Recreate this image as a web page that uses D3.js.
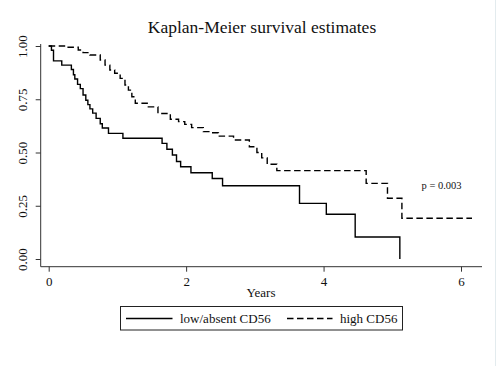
<!DOCTYPE html>
<html>
<head>
<meta charset="utf-8">
<script src="https://cdn.jsdelivr.net/npm/d3@7.9.0/dist/d3.min.js"></script>
<style>
  body { margin: 0; background: #fff; }
  svg text { font-family: "Liberation Serif", "Times New Roman", serif; fill: #111; }
</style>
</head>
<body>
<div id="chart"></div>
<script>
// step points: [years, survival]
const lowCD56 = [
  [0, 1], [0.04, 0.98], [0.07, 0.93], [0.19, 0.91], [0.33, 0.89], [0.36, 0.865],
  [0.38, 0.845], [0.42, 0.82], [0.46, 0.80], [0.50, 0.77], [0.54, 0.745],
  [0.57, 0.725], [0.60, 0.705], [0.64, 0.685], [0.69, 0.66], [0.75, 0.635],
  [0.78, 0.615], [0.87, 0.59], [1.08, 0.567], [1.65, 0.543], [1.72, 0.515],
  [1.80, 0.488], [1.86, 0.458], [1.92, 0.433], [2.07, 0.405], [2.38, 0.378],
  [2.53, 0.344], [3.65, 0.261], [4.04, 0.21], [4.46, 0.103], [5.11, 0]
];
const highCD56 = [
  [0, 1], [0.26, 0.994], [0.43, 0.981], [0.50, 0.969], [0.60, 0.958],
  [0.75, 0.934], [0.82, 0.91], [0.89, 0.887], [0.96, 0.872], [1.04, 0.848],
  [1.11, 0.817], [1.16, 0.793], [1.21, 0.762], [1.26, 0.731], [1.45, 0.714],
  [1.59, 0.683], [1.77, 0.656], [1.89, 0.645], [1.98, 0.632], [2.08, 0.617],
  [2.25, 0.598], [2.35, 0.593], [2.47, 0.577], [2.69, 0.559], [2.92, 0.527],
  [3.03, 0.50], [3.10, 0.475], [3.18, 0.445], [3.32, 0.415], [4.62, 0.355],
  [4.93, 0.285], [5.14, 0.191], [6.16, 0.191]
];
const xTicks = [0, 2, 4, 6];
const yTicks = [0, 0.25, 0.5, 0.75, 1];
const legendLabels = ["low/absent CD56", "high CD56"];
const pLabel = "p = 0.003";

const W = 500, H = 366;
const svg = d3.select("#chart").append("svg").attr("width", W).attr("height", H);

// faint frame line on the right
svg.append("line").attr("x1", 495.5).attr("x2", 495.5).attr("y1", 0).attr("y2", H)
  .attr("stroke", "#e3ebee").attr("stroke-width", 1);

const x = d3.scaleLinear().domain([0, 6]).range([48.7, 461]);
const y = d3.scaleLinear().domain([0, 1]).range([259, 46]);

svg.append("text")
  .attr("x", 262).attr("y", 33)
  .attr("text-anchor", "middle")
  .style("font-size", "17.5px")
  .text("Kaplan-Meier survival estimates");

// y axis
const yAxis = svg.append("g").attr("transform", "translate(40.7,0)")
  .call(d3.axisLeft(y).tickValues(yTicks).tickSize(5).tickFormat(d3.format(".2f")));
yAxis.select(".domain").attr("d", `M0,44V266.7`);
yAxis.selectAll("line").attr("stroke", "#333");
yAxis.select(".domain").attr("stroke", "#333");
yAxis.selectAll("text")
  .attr("transform", "rotate(-90)")
  .attr("x", 0).attr("y", -14).attr("dy", 0)
  .attr("text-anchor", "middle")
  .style("font-size", "13px");

// x axis
const xAxis = svg.append("g").attr("transform", "translate(0,266.7)")
  .call(d3.axisBottom(x).tickValues(xTicks).tickSize(5).tickFormat(d3.format("d")));
xAxis.select(".domain").attr("d", "M40.7,0H482").attr("stroke", "#333");
xAxis.selectAll("line").attr("stroke", "#333");
xAxis.selectAll("text")
  .attr("y", 10).attr("dy", "0.71em")
  .style("font-size", "13px");

svg.append("text")
  .attr("x", 261).attr("y", 297)
  .attr("text-anchor", "middle")
  .style("font-size", "13px")
  .text("Years");

const line = d3.line().curve(d3.curveStepAfter)
  .x(d => x(d[0])).y(d => y(d[1]));

svg.append("path").datum(lowCD56)
  .attr("d", line).attr("fill", "none")
  .attr("stroke", "#000").attr("stroke-width", 1.4);

svg.append("path").datum(highCD56)
  .attr("d", line).attr("fill", "none")
  .attr("stroke", "#000").attr("stroke-width", 1.4)
  .attr("stroke-dasharray", "6.5,3.5");

svg.append("text")
  .attr("x", 421.5).attr("y", 189)
  .style("font-size", "10.5px")
  .text(pLabel);

// legend
const lg = svg.append("g");
lg.append("rect")
  .attr("x", 120.5).attr("y", 306.5).attr("width", 282).attr("height", 23.5)
  .attr("fill", "#fff").attr("stroke", "#222").attr("stroke-width", 1);
lg.append("line").attr("x1", 126).attr("x2", 172.5).attr("y1", 318.5).attr("y2", 318.5)
  .attr("stroke", "#000").attr("stroke-width", 1.4);
lg.append("text").attr("x", 180).attr("y", 323)
  .style("font-size", "13px").text(legendLabels[0]);
lg.append("line").attr("x1", 287).attr("x2", 332.5).attr("y1", 318.5).attr("y2", 318.5)
  .attr("stroke", "#000").attr("stroke-width", 1.4).attr("stroke-dasharray", "6.5,3.5");
lg.append("text").attr("x", 340).attr("y", 323)
  .style("font-size", "13px").text(legendLabels[1]);
</script>
</body>
</html>
